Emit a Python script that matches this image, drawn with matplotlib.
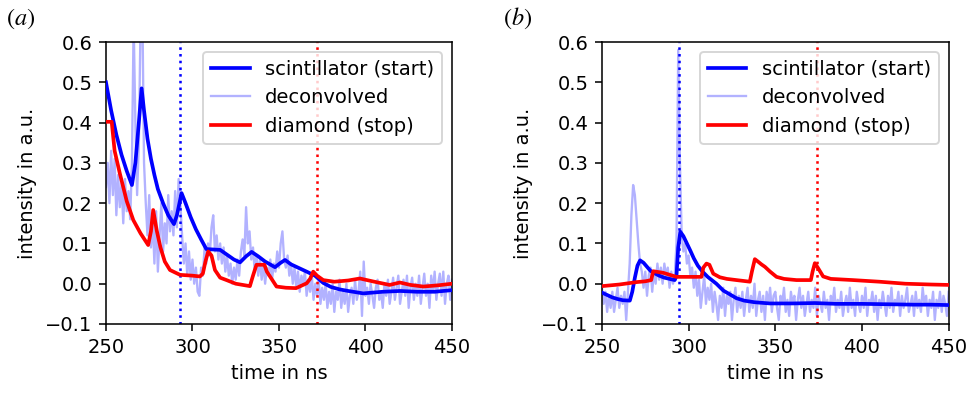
import matplotlib
matplotlib.use('Agg')
import matplotlib.pyplot as plt
import numpy as np

plt.rcParams['mathtext.fontset'] = 'stix'

# ---- panel (a) ----
blue_a_t = [250, 253, 256, 259, 262, 265, 267, 269, 270.6, 272, 274, 276, 278, 280, 283, 286, 289.3, 291,
            293.7, 296, 299, 302, 305, 308, 312, 316, 320, 324, 327.5, 331, 334.2, 338, 342, 347.7, 351,
            353.5, 357, 362, 366, 370.8, 375.6, 380, 385, 390, 398.7, 410, 420, 430, 440, 450]
blue_a = [0.50, 0.43, 0.37, 0.32, 0.28, 0.245, 0.30, 0.40, 0.485, 0.43, 0.36, 0.31, 0.27, 0.235, 0.20, 0.17,
          0.148, 0.17, 0.225, 0.20, 0.165, 0.135, 0.11, 0.086, 0.085, 0.084, 0.072, 0.06, 0.053, 0.068, 0.079,
          0.068, 0.055, 0.041, 0.052, 0.059, 0.048, 0.038, 0.030, 0.020, 0.002, -0.008, -0.014, -0.018,
          -0.024, -0.02, -0.018, -0.02, -0.02, -0.016]

red_a_t = [250, 253.3, 255, 258, 262, 265.8, 270, 274.4, 276, 277.3, 279.3, 281.5, 284, 287, 292.8, 300,
           304.3, 306, 307.5, 309.1, 311, 313, 316, 319.7, 325, 333.2, 335, 337, 341.6, 343, 348.6, 354,
           359.9, 366, 368, 369.8, 372, 375.6, 382, 390, 396.8, 404, 414, 419.9, 426, 433.4, 442, 450]
red_a = [0.402, 0.402, 0.33, 0.274, 0.205, 0.158, 0.125, 0.096, 0.13, 0.183, 0.133, 0.09, 0.055, 0.034,
         0.022, 0.02, 0.018, 0.025, 0.055, 0.080, 0.07, 0.034, 0.015, 0.009, 0.0, -0.006, 0.02, 0.047, 0.047,
         0.03, -0.007, -0.01, -0.011, 0.001, 0.012, 0.03, 0.02, 0.009, 0.005, 0.008, 0.013, 0.006, -0.003,
         0.003, -0.003, -0.007, -0.004, 0.0]

deconv_a = [
    0.24, 0.30, 0.20, 0.33, 0.22, 0.31, 0.17, 0.27, 0.19, 0.25, 0.15, 0.26, 0.18, 0.23, 0.16, 0.30,
    0.65, 0.40, 0.22, 0.35, 0.65, 0.70, 0.30, 0.20, 0.12, 0.22, 0.09, 0.16, 0.05, 0.18, 0.03, 0.12,
    0.20, 0.08, 0.15, 0.10, 0.22, 0.13, 0.18, 0.12, 0.23, 0.14, 0.26, 0.20, 0.12, 0.05, 0.10, 0.02,
    0.08, 0.01, 0.06, 0.00, 0.04, -0.02, -0.03, 0.04, 0.02, 0.09, 0.05, 0.10, 0.07, 0.14, 0.17, 0.08,
    0.12, 0.06, 0.10, 0.05, 0.09, 0.03, 0.07, 0.02, 0.05, 0.00, 0.04, 0.01, 0.06, 0.02, 0.08, 0.11,
    0.07, 0.19, 0.10, 0.13, 0.06, 0.09, 0.03, 0.07, 0.02, 0.06, 0.01, 0.05, 0.00, 0.04, 0.02, 0.06,
    0.01, 0.05, 0.03, 0.08, 0.04, 0.10, 0.13, 0.06, 0.04, 0.07, 0.02, 0.05, 0.00, 0.04, -0.01, 0.03,
    -0.02, 0.02, 0.00, 0.03, -0.03, 0.01, -0.02, 0.02, -0.04, 0.00, -0.03, 0.01, -0.05, -0.01, -0.04, 0.00,
    -0.06, -0.02, -0.05, 0.00, -0.07, -0.02, -0.04, 0.01, -0.06, -0.02, -0.05, 0.00, -0.07, -0.03, -0.01, -0.05,
    0.01, -0.04, -0.02, 0.03, -0.08, 0.055, -0.03, -0.01, -0.05, 0.00, -0.03, -0.06, -0.01, 0.01, -0.04, -0.02,
    -0.06, 0.00, -0.03, 0.01, -0.05, -0.02, 0.015, -0.04, -0.01, 0.02, -0.05, -0.02, 0.01, -0.03, 0.02, -0.06,
    -0.01, 0.015, -0.04, 0.00, -0.03, 0.02, -0.05, -0.01, 0.025, -0.03, 0.00, -0.06, 0.02, -0.02, 0.03, -0.04,
    0.00, 0.025, -0.03, 0.03, -0.05, 0.00, 0.02, -0.04, 0.01]

# ---- panel (b) ----
blue_b_t = [250, 253, 256, 259, 262, 266.1, 267.5, 269, 270.5, 272, 274, 276, 278, 280.4, 283, 286, 289, 292,
            293, 294, 295.2, 297, 299, 301, 303, 305.3, 308, 311, 316, 320, 327.6, 332, 338, 346.8, 352, 360,
            372.8, 385, 400, 415, 430, 440, 450]
blue_b = [-0.022, -0.028, -0.034, -0.038, -0.041, -0.042, -0.02, 0.015, 0.045, 0.058, 0.052, 0.042, 0.032,
          0.026, 0.020, 0.015, 0.012, 0.009, 0.02, 0.09, 0.129, 0.118, 0.10, 0.082, 0.063, 0.045, 0.03, 0.017,
          0.0, -0.017, -0.036, -0.042, -0.046, -0.049, -0.049, -0.049, -0.048, -0.05, -0.05, -0.051, -0.052,
          -0.052, -0.053]

red_b_t = [250, 255, 260, 265, 270, 275, 278.4, 279.6, 285.4, 293, 300, 307.4, 308.5, 310.3, 312, 314.2, 318,
           322, 327.6, 335.3, 336.5, 338.2, 340, 342, 344, 347, 350.7, 355, 362.2, 370.5, 371.5, 372.8, 374.5,
           377.6, 382, 394.8, 410, 425, 440, 450]
red_b = [-0.006, -0.004, -0.002, 0.001, 0.004, 0.006, 0.009, 0.031, 0.027, 0.017, 0.017, 0.017, 0.04, 0.050,
         0.047, 0.025, 0.016, 0.012, 0.009, 0.005, 0.03, 0.061, 0.055, 0.048, 0.042, 0.03, 0.017, 0.012, 0.009,
         0.009, 0.03, 0.051, 0.04, 0.018, 0.012, 0.009, 0.005, 0.0, -0.002, -0.003]

deconv_b = [
    -0.01, -0.05, -0.02, -0.07, -0.03, -0.06, -0.02, -0.07, -0.04, -0.01, -0.06, -0.03, -0.05, -0.02, -0.09, -0.02,
    0.05, 0.17, 0.245, 0.22, 0.16, 0.10, 0.05, 0.03, -0.01, 0.03, -0.03, 0.02, 0.04, -0.02, 0.03, 0.00,
    0.05, 0.01, 0.04, 0.00, 0.05, 0.02, 0.04, -0.01, 0.03, 0.00, 0.02, 0.10, 0.58, 0.30, 0.12, 0.08,
    0.10, 0.05, 0.07, 0.02, 0.04, -0.01, 0.03, -0.03, 0.01, -0.06, -0.02, 0.02, -0.05, -0.01, -0.04, 0.00,
    -0.07, -0.02, -0.05, -0.09, -0.03, -0.06, -0.01, -0.08, -0.03, -0.05, -0.02, -0.09, -0.04, -0.01, -0.07, -0.03,
    -0.06, -0.02, -0.08, -0.04, -0.01, -0.07, -0.03, -0.06, 0.00, -0.08, -0.04, -0.02, -0.07, -0.03, -0.09, -0.02,
    -0.05, -0.01, -0.07, -0.03, -0.02, -0.06, -0.09, -0.03, -0.05, -0.01, -0.07, -0.04, -0.08, -0.02, -0.05, -0.03,
    -0.09, -0.04, -0.01, -0.06, -0.03, -0.08, -0.05, -0.02, -0.07, -0.04, -0.06, -0.01, -0.08, -0.03, -0.05, -0.07,
    -0.02, -0.06, -0.04, -0.09, -0.03, -0.05, -0.01, -0.07, -0.04, -0.06, -0.02, -0.08, -0.05, -0.03, -0.07, -0.01,
    -0.06, -0.04, -0.08, -0.02, -0.05, -0.07, -0.03, -0.06, -0.01, -0.08, -0.04, -0.05, -0.02, -0.07, -0.03, -0.09,
    -0.04, -0.06, -0.02, -0.05, -0.08, -0.03, -0.06, -0.01, -0.07, -0.04, -0.05, -0.02, -0.08, -0.03, -0.06, -0.04,
    -0.01, -0.07, -0.05, -0.03, -0.08, -0.02, -0.06, -0.04, -0.07, -0.01, -0.05, -0.03, -0.08, -0.04, -0.06, -0.02,
    -0.09, -0.04, -0.06, -0.02, -0.07, -0.03, -0.05, -0.08, -0.02]

t_deconv = np.arange(250, 451, 1)

start_a, stop_a = 292.8, 371.8
start_b, stop_b = 294.4, 374.0

# original was drawn at ~140 dpi with default sizes
fig = plt.figure(figsize=(974 / 140, 393 / 140), dpi=140)
ax1 = fig.add_axes([0.1088, 0.1756, 0.3552, 0.7174])
ax2 = fig.add_axes([0.618, 0.1756, 0.356, 0.7174])

panels = [(ax1, blue_a_t, blue_a, deconv_a, red_a_t, red_a, start_a, stop_a, r'$(a)$', 0.006),
          (ax2, blue_b_t, blue_b, deconv_b, red_b_t, red_b, start_b, stop_b, r'$(b)$', 0.516)]

for ax, bt, bv, dv, rt, rv, s, e, lab, lx in panels:
    ax.plot(bt, bv, color='b', lw=1.9, label='scintillator (start)', zorder=3)
    ax.plot(t_deconv, dv, color='b', alpha=0.3, lw=1.2, label='deconvolved', zorder=2)
    ax.plot(rt, rv, color='r', lw=1.9, label='diamond (stop)', zorder=3)
    ax.axvline(s, color='b', ls=':', lw=1.3)
    ax.axvline(e, color='r', ls=':', lw=1.3)
    ax.set_xlim(250, 450)
    ax.set_ylim(-0.1, 0.6)
    ax.set_xticks([250, 300, 350, 400, 450])
    ax.set_yticks(np.arange(-0.1, 0.61, 0.1))
    ax.set_xlabel('time in ns')
    ax.set_ylabel('intensity in a.u.')
    ax.legend(loc='upper right')
    fig.text(lx, 0.938, lab, fontsize=12.5)

plt.savefig('out.png', dpi=140)
